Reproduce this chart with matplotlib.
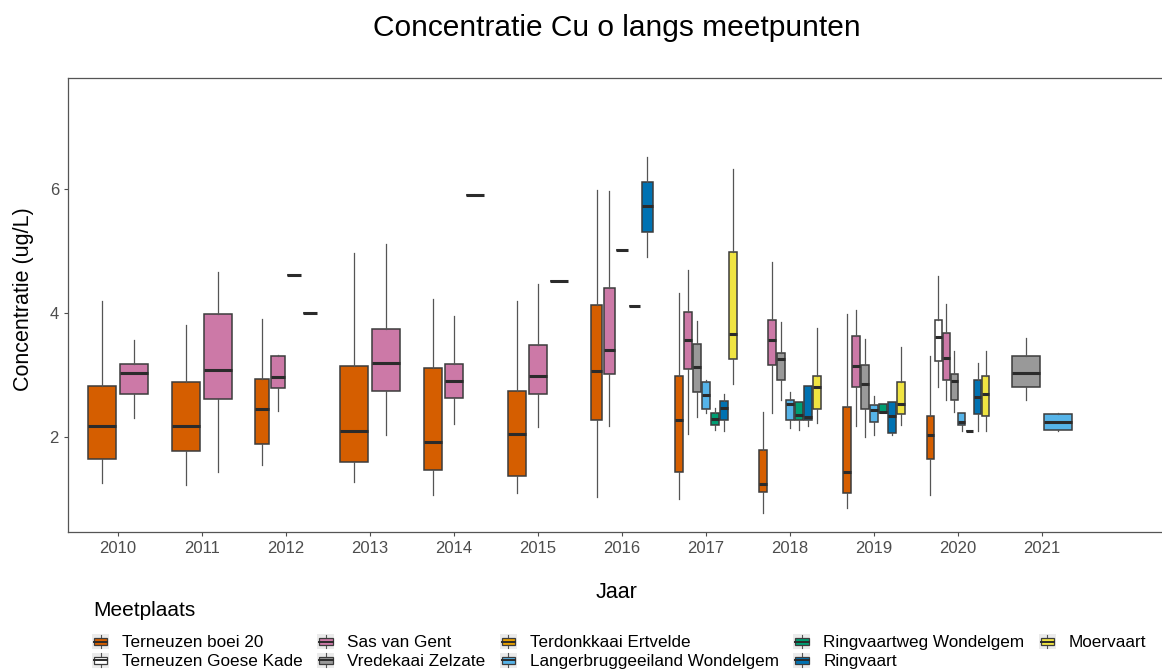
import matplotlib
matplotlib.use("Agg")
import matplotlib.pyplot as plt
from matplotlib.legend_handler import HandlerBase
from matplotlib.patches import Rectangle
from matplotlib.lines import Line2D

plt.rcParams['font.family'] = ['Liberation Sans', 'DejaVu Sans']

# ---------------- data ----------------
years = ['2010', '2011', '2012', '2013', '2014', '2015', '2016', '2017', '2018', '2019', '2020', '2021']
sites = ['Terneuzen boei 20', 'Terneuzen Goese Kade', 'Sas van Gent', 'Vredekaai Zelzate',
         'Terdonkkaai Ertvelde', 'Langerbruggeeiland Wondelgem', 'Ringvaartweg Wondelgem',
         'Ringvaart', 'Moervaart']
site_colors = ['#D55E00', '#FFFFFF', '#CC79A7', '#999999', '#E69F00', '#56B4E9', '#009E73',
               '#0072B2', '#F0E442']

# one entry per (year, site) box
box_year = ['2010', '2010',
            '2011', '2011',
            '2012', '2012', '2012', '2012',
            '2013', '2013',
            '2014', '2014', '2014',
            '2015', '2015', '2015',
            '2016', '2016', '2016', '2016', '2016',
            '2017', '2017', '2017', '2017', '2017', '2017', '2017',
            '2018', '2018', '2018', '2018', '2018', '2018', '2018',
            '2019', '2019', '2019', '2019', '2019', '2019', '2019',
            '2020', '2020', '2020', '2020', '2020', '2020', '2020', '2020',
            '2021', '2021']
box_site = ['Terneuzen boei 20', 'Sas van Gent',
            'Terneuzen boei 20', 'Sas van Gent',
            'Terneuzen boei 20', 'Sas van Gent', 'Vredekaai Zelzate', 'Terdonkkaai Ertvelde',
            'Terneuzen boei 20', 'Sas van Gent',
            'Terneuzen boei 20', 'Sas van Gent', 'Terdonkkaai Ertvelde',
            'Terneuzen boei 20', 'Sas van Gent', 'Terdonkkaai Ertvelde',
            'Terneuzen boei 20', 'Sas van Gent', 'Terdonkkaai Ertvelde',
            'Langerbruggeeiland Wondelgem', 'Ringvaart',
            'Terneuzen boei 20', 'Sas van Gent', 'Vredekaai Zelzate', 'Langerbruggeeiland Wondelgem',
            'Ringvaartweg Wondelgem', 'Ringvaart', 'Moervaart',
            'Terneuzen boei 20', 'Sas van Gent', 'Vredekaai Zelzate', 'Langerbruggeeiland Wondelgem',
            'Ringvaartweg Wondelgem', 'Ringvaart', 'Moervaart',
            'Terneuzen boei 20', 'Sas van Gent', 'Vredekaai Zelzate', 'Langerbruggeeiland Wondelgem',
            'Ringvaartweg Wondelgem', 'Ringvaart', 'Moervaart',
            'Terneuzen boei 20', 'Terneuzen Goese Kade', 'Sas van Gent', 'Vredekaai Zelzate',
            'Langerbruggeeiland Wondelgem', 'Ringvaartweg Wondelgem', 'Ringvaart', 'Moervaart',
            'Vredekaai Zelzate', 'Langerbruggeeiland Wondelgem']
box_low = [1.26, 2.31,
           1.23, 1.43,
           1.55, 2.42, 4.61, 4.00,
           1.27, 2.03,
           1.07, 2.21, 5.91,
           1.10, 2.16, 4.51,
           1.03, 2.18, 5.02, 4.11, 4.91,
           1.00, 2.05, 2.33, 2.39, 2.11, 2.09, 2.85,
           0.77, 2.38, 2.60, 2.14, 2.11, 2.17, 2.22,
           0.85, 2.18, 2.00, 2.03, 2.39, 2.03, 2.19,
           1.06, 2.80, 2.60, 2.40, 2.10, 2.09, 2.09, 2.09,
           2.60, 2.10]
box_q1 = [1.65, 2.69,
          1.77, 2.61,
          1.89, 2.79, 4.61, 4.00,
          1.60, 2.75,
          1.46, 2.63, 5.91,
          1.37, 2.70, 4.51,
          2.28, 3.01, 5.02, 4.11, 5.31,
          1.44, 3.09, 2.73, 2.45, 2.20, 2.27, 3.26,
          1.11, 3.16, 2.92, 2.28, 2.28, 2.28, 2.45,
          1.09, 2.81, 2.45, 2.24, 2.39, 2.06, 2.37,
          1.65, 3.23, 2.92, 2.59, 2.19, 2.09, 2.37, 2.34,
          2.80, 2.11]
box_med = [2.18, 3.04,
           2.18, 3.08,
           2.45, 2.97, 4.61, 4.00,
           2.10, 3.19,
           1.92, 2.90, 5.91,
           2.05, 2.99, 4.51,
           3.07, 3.41, 5.02, 4.11, 5.72,
           2.27, 3.56, 3.13, 2.67, 2.29, 2.46, 3.66,
           1.24, 3.56, 3.26, 2.53, 2.35, 2.33, 2.80,
           1.44, 3.15, 2.85, 2.44, 2.41, 2.34, 2.53,
           2.03, 3.62, 3.27, 2.90, 2.25, 2.09, 2.65, 2.70,
           3.04, 2.25]
box_q3 = [2.82, 3.17,
          2.88, 3.98,
          2.94, 3.31, 4.61, 4.00,
          3.15, 3.75,
          3.12, 3.18, 5.91,
          2.75, 3.49, 4.51,
          4.13, 4.41, 5.02, 4.11, 6.12,
          2.99, 4.02, 3.50, 2.89, 2.38, 2.58, 4.98,
          1.79, 3.88, 3.35, 2.60, 2.57, 2.82, 2.99,
          2.49, 3.63, 3.16, 2.51, 2.53, 2.56, 2.89,
          2.34, 3.88, 3.68, 3.02, 2.39, 2.09, 2.92, 2.99,
          3.30, 2.37]
box_high = [4.20, 3.56,
            3.80, 4.66,
            3.91, 3.33, 4.61, 4.00,
            4.96, 5.12,
            4.23, 3.95, 5.91,
            4.20, 4.46, 4.51,
            5.99, 5.97, 5.02, 4.11, 6.52,
            4.33, 4.69, 3.87, 2.92, 2.47, 2.69, 6.32,
            2.40, 4.83, 3.86, 2.72, 2.57, 2.82, 3.76,
            3.98, 4.05, 3.58, 2.66, 2.53, 2.56, 3.45,
            3.30, 4.60, 4.14, 3.39, 2.39, 2.09, 3.19, 3.39,
            3.60, 2.38]

# ---------------- figure ----------------
W, H = 1162, 670
fig = plt.figure(figsize=(W / 100, H / 100), dpi=100)
ax_l, ax_r, ax_t, ax_b = 68, 1162, 78, 532
ax = fig.add_axes([ax_l / W, 1 - ax_b / H, (ax_r - ax_l) / W, (ax_b - ax_t) / H])

edge = '#3c3c3c'
dodge = 0.75
for yi, yr in enumerate(years):
    idx = [i for i in range(len(box_year)) if box_year[i] == yr]
    idx.sort(key=lambda i: sites.index(box_site[i]))
    n = len(idx)
    slot = dodge / n
    for k, i in enumerate(idx):
        pos = yi + (k - (n - 1) / 2) * slot
        col = site_colors[sites.index(box_site[i])]
        st = dict(med=box_med[i], q1=box_q1[i], q3=box_q3[i],
                  whislo=box_low[i], whishi=box_high[i], fliers=[])
        ax.bxp([st], positions=[pos], widths=[slot * 0.9], patch_artist=True,
               showcaps=False, showfliers=False,
               boxprops=dict(facecolor=col, edgecolor=edge, linewidth=1.1),
               whiskerprops=dict(color='#555555', linewidth=0.9),
               medianprops=dict(color='#2b2b2b', linewidth=2.2, solid_capstyle='butt'),
               manage_ticks=False, zorder=3)

x_per_unit = 84.0
x0 = 118.0
ax.set_xlim(-(x0 - ax_l) / x_per_unit, (ax_r - x0) / x_per_unit)
ax.set_ylim(2 + (437 - ax_b) / 62.0, 2 + (437 - ax_t) / 62.0)
ax.set_xticks(range(len(years)))
ax.set_xticklabels(years)
ax.set_yticks([2, 4, 6])
ax.set_yticklabels(['2', '4', '6'])
ax.tick_params(axis='both', colors='#4d4d4d', labelsize=12, length=3, width=0.8,
               labelcolor='#4d4d4d')
for s in ['left', 'bottom', 'top']:
    ax.spines[s].set_color('#555555')
    ax.spines[s].set_linewidth(0.9)
ax.spines['right'].set_visible(False)
ax.set_facecolor('white')

fig.text(617 / W, 1 - 28 / H, 'Concentratie Cu o langs meetpunten', ha='center', va='center',
         fontsize=21.5, color='black')
fig.text(24 / W, 1 - 299 / H, 'Concentratie (ug/L)', rotation=90, ha='center', va='center',
         fontsize=15.5, color='black')
fig.text(617 / W, 1 - 593 / H, 'Jaar', ha='center', va='center', fontsize=15.5, color='black')
fig.text(93 / W, 1 - 611 / H, 'Meetplaats', ha='left', va='center', fontsize=15, color='black')


# ---------------- legend ----------------
class BoxKeyHandler(HandlerBase):
    def create_artists(self, legend, orig_handle, xdescent, ydescent, width, height,
                       fontsize, trans):
        x0_, y0_ = -xdescent, -ydescent
        col = orig_handle.get_facecolor()
        bg = Rectangle((x0_, y0_), width, height, facecolor='#ebebeb', edgecolor='none',
                       transform=trans)
        cx = x0_ + width / 2
        w1 = Line2D([cx, cx], [y0_ + 0.06 * height, y0_ + 0.26 * height], color='#555555',
                    lw=0.8, transform=trans)
        w2 = Line2D([cx, cx], [y0_ + 0.74 * height, y0_ + 0.94 * height], color='#555555',
                    lw=0.8, transform=trans)
        box = Rectangle((x0_ + 0.1 * width, y0_ + 0.26 * height), 0.8 * width, 0.48 * height,
                        facecolor=col, edgecolor=edge, lw=0.9, transform=trans)
        med = Line2D([x0_ + 0.1 * width, x0_ + 0.9 * width], [y0_ + 0.5 * height] * 2,
                     color='#2b2b2b', lw=1.4, transform=trans)
        return [bg, w1, w2, box, med]


handles = [Rectangle((0, 0), 1, 1, facecolor=c) for c in site_colors]
leg = fig.legend(handles, sites, loc='upper left', bbox_to_anchor=(92 / W, 1 - 634 / H),
                 ncol=5, frameon=False, fontsize=12.3,
                 handler_map={Rectangle: BoxKeyHandler()},
                 handlelength=1.0, handleheight=1.0, handletextpad=0.75,
                 columnspacing=0.85, labelspacing=0.12, borderaxespad=0, borderpad=0)

fig.savefig('out.png', dpi=100, facecolor='white')
